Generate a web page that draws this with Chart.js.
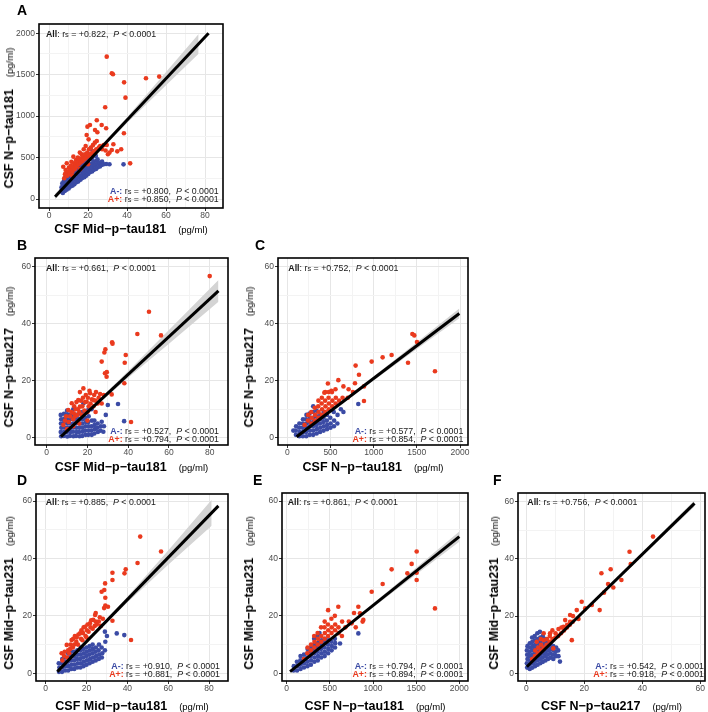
<!DOCTYPE html>
<html>
<head>
<meta charset="utf-8">
<script src="https://cdn.jsdelivr.net/npm/chart.js@4.4.1/dist/chart.umd.min.js"></script>
<style>
  html, body { margin: 0; padding: 0; background: #fff; }
  #fig { position: relative; width: 708px; height: 712px; overflow: hidden; background: #fff;
         font-family: "Liberation Sans", Arial, Helvetica, sans-serif; color: #1a1a1a; }
  #fig canvas { position: absolute; }
  .letter { position: absolute; font-weight: bold; font-size: 14px; line-height: 14px; color: #000; }
  .stat { position: absolute; font-size: 8.8px; line-height: 9px; white-space: nowrap; color: #1a1a1a; }
  .stat sub { font-size: 0.85em; vertical-align: -0.1em; line-height: 0; }
  .xtitle, .ytitle { position: absolute; white-space: nowrap; line-height: 14px; color: #000; }
  .xtitle { transform: translate(-50%, -50%); }
  .ytitle { transform: translate(-50%, -50%) rotate(-90deg); }
  .xtitle b, .ytitle b { font-size: 12.5px; }
  .unit { font-size: 9.5px; margin-left: 12px; }
</style>
</head>
<body>
<div id="fig"></div>
<script>
// --- Data ---
// A: x = Mid-p-tau181, y = N-p-tau181
const A_neg = [[6.2,92],[6.4,140],[6.8,188],[7.1,72],[7.3,122],[7.2,168],[7.6,218],[8.1,98],[8.0,152],[8.3,204],[8.2,252],[9.0,112],[9.2,160],[8.9,212],[9.1,262],[9.3,308],[10.1,128],[9.9,182],[10.2,232],[10.0,278],[10.3,330],[11.0,152],[11.2,198],[10.9,248],[11.1,302],[11.3,352],[12.1,162],[11.9,212],[12.2,258],[12.0,312],[12.3,368],[13.0,178],[13.2,232],[12.9,282],[13.1,328],[13.3,392],[14.1,202],[13.9,248],[14.2,298],[14.0,352],[14.3,408],[15.0,212],[15.2,262],[14.9,308],[15.1,362],[15.3,428],[16.1,232],[15.9,278],[16.2,332],[16.0,382],[16.3,448],[17.0,252],[17.2,302],[16.9,348],[17.1,402],[17.3,462],[18.1,262],[17.9,312],[18.2,362],[18.0,418],[18.3,478],[19.0,282],[19.2,332],[18.9,382],[19.1,438],[20.1,302],[19.9,348],[20.2,402],[20.0,458],[20.3,540],[21.0,322],[21.2,372],[20.9,418],[21.1,482],[21.3,600],[22.1,332],[21.9,382],[22.2,432],[22.0,488],[23.0,352],[23.2,402],[22.9,448],[24.1,362],[23.9,412],[24.2,462],[24.0,520],[25.0,382],[25.2,432],[24.9,478],[26.1,392],[25.9,440],[27.0,410],[27.2,452],[28.1,420],[29.3,422],[31,420],[38.2,418]];
const A_pos = [[7.3,390],[7.8,250],[8.2,300],[8.5,350],[9.1,431],[9.3,280],[9.8,330],[10.2,380],[10.5,300],[11.0,345],[11.2,400],[11.5,450],[12.0,330],[12.3,380],[12.5,511],[12.8,430],[13.2,360],[13.5,410],[13.8,470],[14.2,390],[14.5,440],[14.8,500],[15.2,420],[15.5,470],[15.8,560],[16.2,440],[16.5,490],[16.8,540],[17.2,460],[17.5,510],[17.8,600],[18.2,480],[18.5,540],[18.8,640],[19.3,772],[19.2,500],[19.6,560],[20.2,520],[20.5,600],[20.3,720],[21.2,540],[21.5,620],[21.0,893],[22.2,560],[22.5,650],[23.2,580],[23.5,680],[23.6,833],[24.2,600],[24.5,700],[24.8,805],[25.5,620],[26.2,640],[27.0,893],[27.2,600],[28.0,650],[29.0,585],[29.6,652],[30.2,540],[31.0,560],[32.2,591],[33.0,660],[35.0,575],[37.0,600],[19.7,873],[24.5,950],[29.6,1718],[32.2,1517],[32.8,1505],[38.5,1408],[49.7,1457],[56.5,1477],[39.2,1223],[28.8,1107],[38.4,793],[29.3,853],[41.6,430],[16,360],[20,420],[12,280]];
const A_fitX = [3.1, 81.8];
const A_fitY = [28, 2000];
const A_bandX = [3.1, 20, 40, 60, 76.7];
const A_bandLo = [-7, 436, 917, 1373, 1752];
const A_bandHi = [63, 466, 987, 1533, 1992];
const A_xTicks = [0, 20, 40, 60, 80];
const A_yTicks = [0, 500, 1000, 1500, 2000];
const A_stats = ['+0.822', '+0.800', '+0.850'];

// B: x = Mid-p-tau181, y = N-p-tau217
const B_neg = [[7.1,0.5],[6.9,2],[7.2,3.5],[7.0,5],[7.1,6.5],[6.9,8],[8.4,0.6],[8.6,2.1],[8.5,3.6],[8.4,5.1],[8.6,6.6],[8.5,8.4],[10.1,0.4],[9.9,2],[10.0,3.5],[10.2,5],[9.9,6.5],[10.1,8],[10.0,9.5],[11.4,0.6],[11.6,2],[11.5,3.4],[11.4,5],[11.6,6.6],[11.5,8.1],[13.1,0.5],[12.9,2.1],[13.0,3.6],[13.2,5],[12.9,6.5],[13.1,8],[13.0,10],[14.4,0.6],[14.6,2],[14.5,3.5],[14.4,5.1],[14.6,6.5],[14.5,8],[16.1,0.5],[15.9,2],[16.0,3.5],[16.2,5],[15.9,6.6],[16.1,8.5],[17.4,0.6],[17.6,2.1],[17.5,3.5],[17.4,5],[17.6,6.5],[17.5,9],[19.1,1],[18.9,2.5],[19.0,4],[19.2,5.5],[18.9,7],[20.4,1],[20.6,2.5],[20.5,4],[20.4,5.5],[20.6,7.5],[20.5,10],[22.1,1],[21.9,2.5],[22.0,4],[22.2,6],[23.4,1.5],[23.6,3],[23.5,4.5],[23.4,6],[25.1,2],[24.9,3.5],[25.0,5],[26.4,2.5],[26.6,4],[27,5.6],[27.8,2.1],[28.1,4],[29,8],[30,11.5],[35,11.8],[38,5.8],[18,12],[22,10]];
const B_pos = [[8.2,4.5],[9.0,6],[9.5,7.5],[10.6,9.7],[10.8,5.5],[11.5,7.5],[12.3,12.1],[12.2,9],[13.0,6.5],[13.3,8.6],[13.5,11],[14.0,7.5],[14.2,10],[14.6,12.5],[15.0,8],[15.5,13.2],[15.3,10],[16.0,9],[16.3,10.9],[16.3,16],[16.8,13],[17.2,8],[17.5,11],[17.8,14],[18.0,17.3],[18.5,9.5],[18.8,12.5],[19.6,12.6],[19.2,15],[20,9],[20.2,14],[20.6,11],[21.3,15.6],[21,16.5],[21.5,12],[22.2,13.5],[22.9,13.2],[23,11],[23.3,15],[24,13],[24.2,16],[25,12],[25.5,14],[26.2,15.3],[27,12],[28,15],[13,4],[10,3],[16,5],[20,6],[24,9],[80,56.7],[50.2,44.2],[44.5,36.4],[56.1,35.9],[32.1,33.5],[32.3,33],[28.8,31],[28.3,29.9],[38.8,29],[38.3,26.3],[27,26.7],[28.6,22.6],[29.4,21.4],[29.5,23],[38.1,19.1],[31.9,15.2],[41.4,5.5]];
const B_fitX = [7, 84.3];
const B_fitY = [0.35, 51.5];
const B_bandX = [7, 20, 40, 60, 84.3];
const B_bandLo = [-0.45, 8.55, 21.0, 33.0, 47.7];
const B_bandHi = [1.15, 9.35, 23.4, 37.8, 55.3];
const B_xTicks = [0, 20, 40, 60, 80];
const B_yTicks = [0, 20, 40, 60];
const B_stats = ['+0.661', '+0.527', '+0.794'];

// C: x = N-p-tau181, y = N-p-tau217
const C_neg = [[100,1],[98,2.5],[102,4],[140,0.5],[142,2],[138,3.5],[140,5],[180,0.5],[182,2],[178,3.5],[180,5],[182,6.5],[220,0.5],[218,2],[222,3.5],[220,5],[218,6.5],[222,8],[260,1],[262,2.5],[258,4],[260,5.5],[262,7],[258,8.5],[300,1],[302,2.5],[298,4],[300,5.5],[302,7],[298,9],[300,11],[340,1.5],[342,3],[338,4.5],[340,6],[342,7.5],[338,9.5],[380,2],[382,3.5],[378,5],[380,6.5],[382,8],[420,2.5],[422,4],[418,5.5],[420,7],[422,9],[460,3],[462,4.5],[458,6],[460,8],[500,3.5],[502,5],[498,7],[540,4],[542,6],[538,9],[580,5],[582,8],[620,10],[650,9],[822,11.8],[70,2.5]];
const C_pos = [[200,4.5],[240,6],[242,8],[280,5],[282,7],[278,9],[320,6],[322,8],[318,10.5],[360,7],[362,9],[358,11],[360,13],[400,8],[402,10],[398,12],[400,14],[440,9],[442,11],[438,13],[440,16],[429,15.8],[480,10],[482,12],[478,14],[480,16],[520,11],[522,13],[518,16],[560,12],[562,14],[558,17],[591,20.2],[600,13],[640,14],[470,19],[510,16.5],[1448,36.4],[1471,35.9],[1502,33.6],[1208,29],[1104,28.2],[977,26.7],[1398,26.3],[1710,23.3],[791,25.3],[830,22.1],[784,19.1],[710,17],[888,18],[888,12.9],[760,16],[700,14],[650,18]];
const C_fitX = [108, 1992];
const C_fitY = [0.35, 43.6];
const C_bandX = [108, 500, 1000, 1500, 1992];
const C_bandLo = [-0.15, 9.05, 20.1, 31.1, 41.9];
const C_bandHi = [0.85, 9.65, 21.5, 33.5, 45.3];
const C_xTicks = [0, 500, 1000, 1500, 2000];
const C_yTicks = [0, 20, 40, 60];
const C_stats = ['+0.752', '+0.577', '+0.854'];

// D: x = Mid-p-tau181, y = Mid-p-tau231
const D_neg = [[6.5,0.5],[6.7,2],[6.4,3.5],[8,0.5],[8.2,2],[7.9,3.5],[8.1,5],[9.5,1],[9.7,2.5],[9.4,4],[9.6,5.5],[11,1],[11.2,2.5],[10.9,4],[11.1,5.5],[11,7],[12.5,1.5],[12.7,3],[12.4,4.5],[12.6,6],[12.5,7.5],[14,1.5],[14.2,3],[13.9,4.5],[14.1,6],[14,7.5],[15.5,2],[15.7,3.5],[15.4,5],[15.6,6.5],[15.5,8],[17,2],[17.2,3.5],[16.9,5],[17.1,6.5],[17,8],[17.2,9],[18.5,2.5],[18.7,4],[18.4,5.5],[18.6,7],[18.5,8.5],[20,3],[20.2,4.5],[19.9,6],[20.1,7.5],[20,9],[21.5,3.5],[21.7,5],[21.4,6.5],[21.6,8],[21.5,9.5],[23,4],[23.2,5.5],[22.9,7],[23.1,8.5],[23,10],[24.5,4.5],[24.7,6],[24.4,7.5],[24.6,9],[26,5],[26.2,6.5],[25.9,8],[26.1,10],[27.5,5.5],[27.7,7],[27.4,9],[29,8],[29.2,11],[29,14.5],[30,13],[34.8,13.9],[38.5,13.3]];
const D_pos = [[7.8,7],[8.2,4.5],[9,6],[9.3,7.5],[10.3,9.9],[10.5,5.5],[11,8],[11.5,7],[12,8.5],[12.2,10],[12.7,11.6],[13.3,9],[13.5,12],[14,10],[14.3,13],[15,11],[15.2,12.5],[15.8,10],[16,13.5],[16.8,13.9],[17.3,12],[17.5,15],[18,11.5],[18.3,14],[18.6,16],[19.3,16.2],[19.5,13],[20,12.5],[20.2,15],[20.5,17],[21,14.5],[21.7,17.4],[22,16],[22.3,18.5],[23,15.5],[23.3,18.6],[24,16.5],[24.2,20.3],[24.5,18],[25,17],[26,18],[26.5,19.5],[27,16.5],[28,19],[46.3,47.6],[56.5,42.4],[45,38.4],[39.2,36.2],[38.6,34.8],[32.7,35],[32.7,32.5],[29.1,31.3],[28.7,29],[29.2,26.3],[27.4,28.4],[29.2,23.6],[30.5,23.2],[28.6,22.7],[32.7,18.3],[41.8,11.6],[24.5,21]];
const D_fitX = [5.7, 84.6];
const D_fitY = [0.6, 58.3];
const D_bandX = [5.7, 20, 40, 60, 81.3];
const D_bandLo = [0, 10.76, 24.7, 37.8, 51.4];
const D_bandHi = [1.2, 11.36, 26.7, 42.8, 60.4];
const D_xTicks = [0, 20, 40, 60, 80];
const D_yTicks = [0, 20, 40, 60];
const D_stats = ['+0.885', '+0.910', '+0.881'];

// E: x = N-p-tau181, y = Mid-p-tau231
const E_neg = [[80,1],[82,2.5],[120,1],[122,2.5],[118,4],[160,1.5],[162,3],[158,4.5],[160,6],[200,2],[202,3.5],[198,5],[200,6.5],[240,2.5],[242,4],[238,5.5],[240,7],[242,8.5],[280,3],[282,4.5],[278,6],[280,7.5],[282,9],[320,4],[322,5.5],[318,7],[320,8.5],[322,10],[318,12],[360,4.5],[362,6],[358,7.5],[360,9],[362,10.5],[358,13],[400,5.5],[402,7],[398,8.5],[400,10],[402,11.5],[440,6],[442,7.5],[438,9],[440,10.5],[442,12],[480,7],[482,8.5],[478,10],[480,11.5],[520,8],[522,9.5],[518,11],[560,9],[562,10.5],[558,12],[618,10.4],[830,13.9],[380,14]];
const E_pos = [[200,5],[240,7],[242,9],[280,8],[282,10],[320,9],[322,11],[318,13],[360,10],[362,12],[358,14],[400,11],[402,13],[398,16],[440,12],[442,14],[438,16],[440,18],[480,13],[482,15],[478,17],[480,22],[520,14],[522,16],[518,19],[560,15],[562,17],[558,20],[600,16],[598,23.2],[602,14],[640,13],[642,18],[680,16],[720,18],[753,17.4],[800,16],[830,23.2],[849,20.9],[880,18],[888,18.6],[780,21],[1506,42.4],[1448,38.1],[1216,36.2],[1398,34.8],[1506,35],[1506,32.5],[1112,31.1],[985,28.4],[1718,22.6]];
const E_fitX = [39, 2000];
const E_fitY = [0.6, 47.6];
const E_bandX = [39, 500, 1000, 1500, 2000];
const E_bandLo = [0.2, 11.35, 22.9, 34.4, 45.8];
const E_bandHi = [1.0, 11.95, 24.3, 36.8, 49.4];
const E_xTicks = [0, 500, 1000, 1500, 2000];
const E_yTicks = [0, 20, 40, 60];
const E_stats = ['+0.861', '+0.794', '+0.894'];

// F: x = N-p-tau217, y = Mid-p-tau231
const F_neg = [[0.3,2],[0.2,3.5],[0.4,5],[0.3,6.5],[0.2,8],[0.4,9.5],[1.2,1.5],[1.1,3],[1.3,4.5],[1.2,6],[1.1,7.5],[1.3,9],[1.2,10.5],[2.1,2],[2.0,3.5],[2.2,5],[2.1,6.5],[2.0,8],[2.2,9.5],[2.1,11],[2.0,12.5],[3.0,2.5],[2.9,4],[3.1,5.5],[3.0,7],[2.9,8.5],[3.1,10],[3.0,11.5],[2.9,13],[3.9,3],[3.8,4.5],[4.0,6],[3.9,7.5],[3.8,9],[4.0,10.5],[3.9,12],[3.8,14],[4.8,3.5],[4.7,5],[4.9,6.5],[4.8,8],[4.7,9.5],[4.9,11],[4.8,12.5],[4.7,14.5],[5.7,4],[5.6,5.5],[5.8,7],[5.7,8.5],[5.6,10],[5.8,11.5],[5.7,13],[6.6,4.5],[6.5,6],[6.7,7.5],[6.6,9],[6.5,10.5],[6.7,12],[7.5,5],[7.4,6.5],[7.6,8],[7.5,9.5],[7.4,11],[8.4,5.5],[8.3,7],[8.5,8.5],[8.4,10],[9.3,5],[9.2,6.5],[9.4,8],[9.3,9.5],[10.2,6],[10.1,7.5],[10.3,9],[11.1,6],[11.0,8],[11.6,4.1]];
const F_pos = [[2,5],[3,6],[3.1,8],[3.6,11],[4,7],[4.1,9],[5,8],[5.1,10],[5,12],[6,9],[6,11.6],[7,10],[7.1,12],[8,11],[8.1,13],[8.2,14],[9,12],[9.3,8.7],[10,12.5],[10.1,14],[11,13],[11.1,15.5],[12,14],[12.1,16],[12.8,16.3],[13,15],[13.4,18.6],[14,16],[14.1,17],[15,17],[15.1,18],[15.1,20.4],[15.7,11.6],[16,18],[16.1,20],[17.4,22.1],[18,19],[19.1,25],[20.3,22.7],[22.6,23.9],[25.3,22.1],[25.9,35],[29.1,36.4],[28.2,31.2],[26.8,28.2],[32.8,32.6],[35.6,42.5],[36,38.2],[43.7,47.8],[30,30],[6,14],[9,15]];
const F_fitX = [0.2, 58];
const F_fitY = [2.3, 59.4];
const F_bandX = [0.2, 15, 30, 45, 58];
const F_bandLo = [1.9, 16.6, 31.2, 45.8, 58.3];
const F_bandHi = [2.7, 17.2, 32.2, 47.4, 60.5];
const F_xTicks = [0, 20, 40, 60];
const F_yTicks = [0, 20, 40, 60];
const F_stats = ['+0.756', '+0.542', '+0.918'];

// --- Styling ---
const FONT = '"Liberation Sans", Arial, Helvetica, sans-serif';
const BLUE = '#3B4BA5';
const RED = '#EA3A1E';
const BAND = '#D4D4D4';
const YW = 30, PT = 8, PR = 14, XH = 16;

// plot boxes are in page pixels: [left, top, right, bottom]
const panels = [
  { id: 'A', neg: A_neg, pos: A_pos, fitX: A_fitX, fitY: A_fitY, bandX: A_bandX, bandLo: A_bandLo, bandHi: A_bandHi, stats: A_stats,
    xTicks: A_xTicks, yTicks: A_yTicks, box: [39, 24, 223, 208], xr: [-5.13, 89.2], yr: [-108.6, 2112],
    xTitle: 'CSF Mid−p−tau181', yTitle: 'CSF N−p−tau181',
    letter: [17, 5], allAt: [46, 34.3], grpAt: [218.7, 191, 199.3], xtAt: [131, 229], ytAt: [9, 118] },
  { id: 'B', neg: B_neg, pos: B_pos, fitX: B_fitX, fitY: B_fitY, bandX: B_bandX, bandLo: B_bandLo, bandHi: B_bandHi, stats: B_stats,
    xTicks: B_xTicks, yTicks: B_yTicks, box: [35, 258, 228, 445], xr: [-5.74, 88.98], yr: [-2.56, 63.05],
    xTitle: 'CSF Mid−p−tau181', yTitle: 'CSF N−p−tau217',
    letter: [17, 240], allAt: [46, 267.7], grpAt: [219, 431, 439.3], xtAt: [131.5, 467], ytAt: [9, 357] },
  { id: 'C', neg: C_neg, pos: C_pos, fitX: C_fitX, fitY: C_fitY, bandX: C_bandX, bandLo: C_bandLo, bandHi: C_bandHi, stats: C_stats,
    xTicks: C_xTicks, yTicks: C_yTicks, box: [278, 258, 468, 445], xr: [-107.7, 2092.6], yr: [-2.56, 63.05],
    xTitle: 'CSF N−p−tau181', yTitle: 'CSF N−p−tau217',
    letter: [255, 240], allAt: [288.3, 267.7], grpAt: [463.3, 431, 439.3], xtAt: [373, 467], ytAt: [249, 357] },
  { id: 'D', neg: D_neg, pos: D_pos, fitX: D_fitX, fitY: D_fitY, bandX: D_bandX, bandLo: D_bandLo, bandHi: D_bandHi, stats: D_stats,
    xTicks: D_xTicks, yTicks: D_yTicks, box: [36, 494, 228, 681], xr: [-4.75, 89.3], yr: [-2.68, 62.44],
    xTitle: 'CSF Mid−p−tau181', yTitle: 'CSF Mid−p−tau231',
    letter: [17, 475], allAt: [45.7, 502.3], grpAt: [220, 665.7, 674.3], xtAt: [132, 706], ytAt: [9, 593] },
  { id: 'E', neg: E_neg, pos: E_pos, fitX: E_fitX, fitY: E_fitY, bandX: E_bandX, bandLo: E_bandLo, bandHi: E_bandHi, stats: E_stats,
    xTicks: E_xTicks, yTicks: E_yTicks, box: [282, 493, 468, 681], xr: [-54.5, 2100.8], yr: [-2.68, 62.79],
    xTitle: 'CSF N−p−tau181', yTitle: 'CSF Mid−p−tau231',
    letter: [253, 475], allAt: [287.7, 502.3], grpAt: [463.3, 665.7, 674.3], xtAt: [375, 706], ytAt: [249, 593] },
  { id: 'F', neg: F_neg, pos: F_pos, fitX: F_fitX, fitY: F_fitY, bandX: F_bandX, bandLo: F_bandLo, bandHi: F_bandHi, stats: F_stats,
    xTicks: F_xTicks, yTicks: F_yTicks, box: [518, 493, 705, 681], xr: [-2.86, 61.62], yr: [-2.69, 63.04],
    xTitle: 'CSF N−p−tau217', yTitle: 'CSF Mid−p−tau231',
    letter: [493, 475], allAt: [527.3, 502.3], grpAt: [704, 665.7, 674.3], xtAt: [611.5, 706], ytAt: [493.5, 593] }
];

const fig = document.getElementById('fig');

// black frame round the panel, like theme_bw
const framePlugin = {
  id: 'frame',
  afterDraw(chart) {
    const { ctx, chartArea: a } = chart;
    ctx.save();
    ctx.strokeStyle = '#000';
    ctx.lineWidth = 1.6;
    ctx.strokeRect(a.left, a.top, a.right - a.left, a.bottom - a.top);
    ctx.restore();
  }
};

// major ticks plus a minor grid line half-way between each pair
function withMinors(majors) {
  const all = [];
  majors.forEach((v, i) => {
    all.push(v);
    if (i < majors.length - 1) all.push((v + majors[i + 1]) / 2);
  });
  return all;
}

function axis(range, majors, isX) {
  const all = withMinors(majors);
  const major = v => majors.indexOf(v) !== -1;
  return {
    type: 'linear',
    position: isX ? 'bottom' : 'left',
    min: range[0],
    max: range[1],
    border: { display: false },
    afterBuildTicks: s => { s.ticks = all.map(v => ({ value: v })); },
    grid: {
      color: ctx => major(ctx.tick.value) ? '#E6E6E6' : '#F3F3F3',
      lineWidth: 1,
      drawTicks: true,
      tickLength: 3,
      tickColor: ctx => major(ctx.tick.value) ? '#333333' : 'rgba(0,0,0,0)'
    },
    ticks: {
      autoSkip: false,
      maxRotation: 0,
      padding: isX ? 0 : 1,
      color: '#4D4D4D',
      font: { family: FONT, size: 8.5 },
      callback: v => major(v) ? String(v) : ''
    },
    afterFit: s => {
      if (isX) { s.height = XH; s.paddingLeft = 0; s.paddingRight = 0; }
      else { s.width = YW; s.paddingTop = 0; s.paddingBottom = 0; }
    }
  };
}

function pts(arr) {
  return arr.map(p => ({ x: p[0], y: p[1] }));
}

function zipXY(xs, ys) {
  return xs.map((x, i) => ({ x: x, y: ys[i] }));
}

function addDiv(cls, html, style) {
  const d = document.createElement('div');
  d.className = cls;
  d.innerHTML = html;
  Object.assign(d.style, style);
  fig.appendChild(d);
  return d;
}

function statLine(label, color, val) {
  return '<b style="color:' + color + '">' + label + ':</b> r<sub>s</sub> = ' + val +
         ',&nbsp; <i>P</i> &lt; 0.0001';
}

panels.forEach(p => {
  const [L, T, R, B] = p.box;
  const cLeft = L - YW, cTop = T - PT;
  const canvas = document.createElement('canvas');
  canvas.width = R - cLeft + PR;
  canvas.height = B - cTop + XH;
  canvas.style.left = cLeft + 'px';
  canvas.style.top = cTop + 'px';
  fig.appendChild(canvas);

  new Chart(canvas, {
    type: 'scatter',
    data: {
      datasets: [
        { type: 'line', label: 'fit', data: zipXY(p.fitX, p.fitY), borderColor: '#000', borderWidth: 3,
          pointRadius: 0, fill: false, order: 0 },
        { label: 'A+', data: pts(p.pos), backgroundColor: RED, borderWidth: 0, pointRadius: 2.3, order: 1 },
        { label: 'A-', data: pts(p.neg), backgroundColor: BLUE, borderWidth: 0, pointRadius: 2.3, order: 2 },
        { type: 'line', label: 'lo', data: zipXY(p.bandX, p.bandLo), borderWidth: 0, borderColor: 'rgba(0,0,0,0)',
          pointRadius: 0, fill: false, order: 3 },
        { type: 'line', label: 'hi', data: zipXY(p.bandX, p.bandHi), borderWidth: 0, borderColor: 'rgba(0,0,0,0)',
          pointRadius: 0, fill: '-1', backgroundColor: BAND, order: 3 }
      ]
    },
    options: {
      responsive: false,
      animation: false,
      events: [],
      layout: { padding: { top: PT, right: PR, left: 0, bottom: 0 } },
      plugins: { legend: { display: false }, tooltip: { enabled: false } },
      scales: {
        x: axis(p.xr, p.xTicks, true),
        y: axis(p.yr, p.yTicks, false)
      }
    },
    plugins: [framePlugin]
  });

  addDiv('letter', p.id, { left: p.letter[0] + 'px', top: (p.letter[1] - 2.5) + 'px' });
  addDiv('stat', '<b>All</b>: r<sub>s</sub> = ' + p.stats[0] + ',&nbsp; <i>P</i> &lt; 0.0001',
    { left: p.allAt[0] + 'px', top: p.allAt[1] + 'px', transform: 'translateY(-50%)' });
  addDiv('stat', statLine('A-', BLUE, p.stats[1]),
    { left: p.grpAt[0] + 'px', top: p.grpAt[1] + 'px', transform: 'translate(-100%, -50%)' });
  addDiv('stat', statLine('A+', RED, p.stats[2]),
    { left: p.grpAt[0] + 'px', top: p.grpAt[2] + 'px', transform: 'translate(-100%, -50%)' });
  addDiv('xtitle', '<b>' + p.xTitle + '</b><span class="unit">(pg/ml)</span>',
    { left: p.xtAt[0] + 'px', top: p.xtAt[1] + 'px' });
  addDiv('ytitle', '<b>' + p.yTitle + '</b><span class="unit">(pg/ml)</span>',
    { left: p.ytAt[0] + 'px', top: p.ytAt[1] + 'px' });
});
</script>
</body>
</html>
